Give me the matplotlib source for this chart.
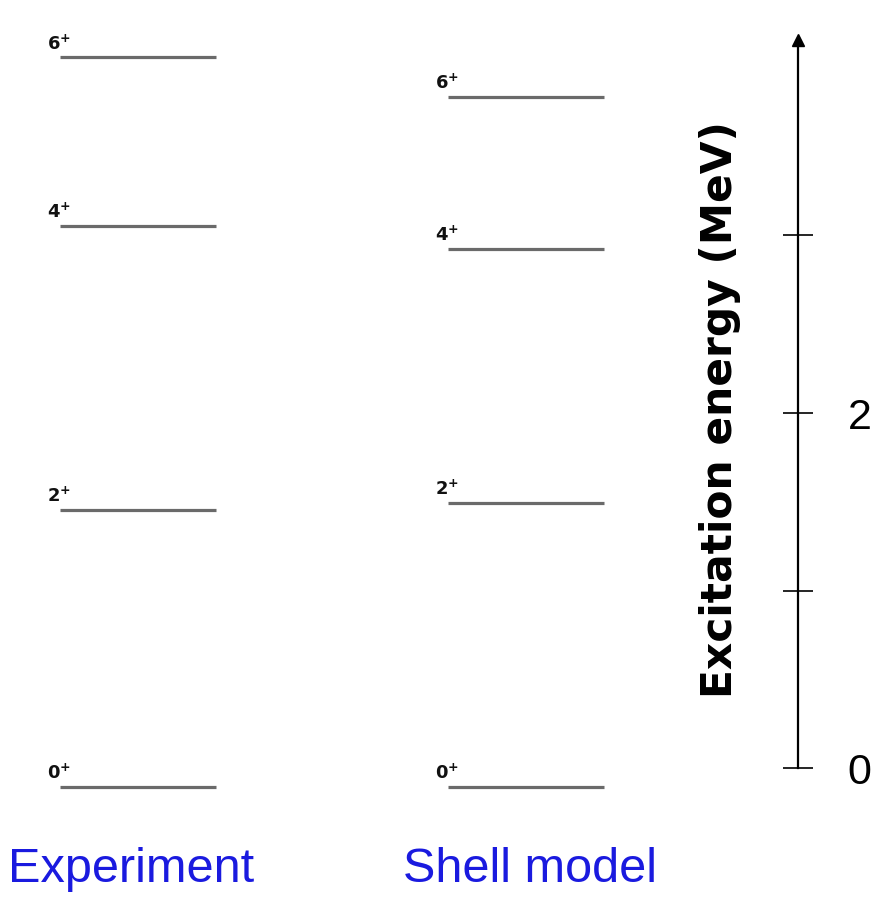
import matplotlib
matplotlib.use("Agg")
import matplotlib.pyplot as plt

# ---- data ----
columns = ["Experiment", "Shell model"]
spins = ["0", "2", "4", "6"]
exp_energies = [0.0, 1.56, 3.16, 4.11]      # MeV
sm_energies = [0.0, 1.60, 3.03, 3.89]       # MeV
axis_ticks = [0, 1, 2, 3]
axis_ticklabels = ["0", "", "2", ""]

W, H = 883, 921
fig = plt.figure(figsize=(W / 100, H / 100), dpi=100)
fig.patch.set_facecolor("white")

# ---- level scheme axes ----
px_per_mev = 177.5
y0_px = 787.0
ylo, yhi = -0.3, 4.3
bot_px = y0_px - px_per_mev * ylo
top_px = y0_px - px_per_mev * yhi
col_px = 388.0
c0_px = 138.0
xlo, xhi = -0.35, 1.35
left_px = c0_px + xlo * col_px
right_px = c0_px + xhi * col_px
ax = fig.add_axes([left_px / W, (H - bot_px) / H,
                   (right_px - left_px) / W, (bot_px - top_px) / H])
ax.set_xlim(xlo, xhi)
ax.set_ylim(ylo, yhi)
ax.axis("off")

half = 0.201
line_color = "#6a6a6a"
label_shift = [-0.018, 0.01]
for ci, energies in enumerate([exp_energies, sm_energies]):
    for s, e in zip(spins, energies):
        ax.hlines(e, ci - half, ci + half, color=line_color, lw=2.3)
        ax.annotate(r"$\mathbf{%s^{+}}$" % s, xy=(ci - half, e),
                    xytext=(-9.5, 3), textcoords="offset points",
                    ha="left", va="bottom", fontsize=13, color="#111111")
    ax.annotate(columns[ci], xy=(ci + label_shift[ci], 0),
                xycoords=("data", "figure fraction"),
                xytext=(0, (H - 869) / 100 * 72), textcoords="offset points",
                ha="center", va="center", fontsize=35, color="#1a1adf",
                family="Liberation Sans")

# ---- energy axis ----
axis_x_px = 798.0
axis_bot_px = 768.0
axis_top_px = 40.0
ax2 = fig.add_axes([0.80, (H - axis_bot_px) / H,
                    axis_x_px / W - 0.80, (axis_bot_px - axis_top_px) / H])
ax2.set_facecolor("none")
ax2.set_ylim(0, (axis_bot_px - axis_top_px) / px_per_mev)
for sp in ["left", "top", "bottom"]:
    ax2.spines[sp].set_visible(False)
ax2.spines["right"].set_linewidth(1.6)
ax2.set_xticks([])
ax2.yaxis.tick_right()
ax2.set_yticks(axis_ticks)
ax2.set_yticklabels(axis_ticklabels, family="Liberation Sans")
ax2.tick_params(axis="y", direction="inout", length=21.6, width=1.2,
                pad=25, labelsize=31)
ax2.plot([1], [1], marker="^", color="black", markersize=8,
         transform=ax2.transAxes, clip_on=False)
fig.text(720 / W, (H - 410) / H, "Excitation energy (MeV)", rotation=90,
         ha="center", va="center", fontsize=30.5, fontweight="bold",
         family="DejaVu Sans")

fig.savefig("out.png", dpi=100, facecolor="white")
